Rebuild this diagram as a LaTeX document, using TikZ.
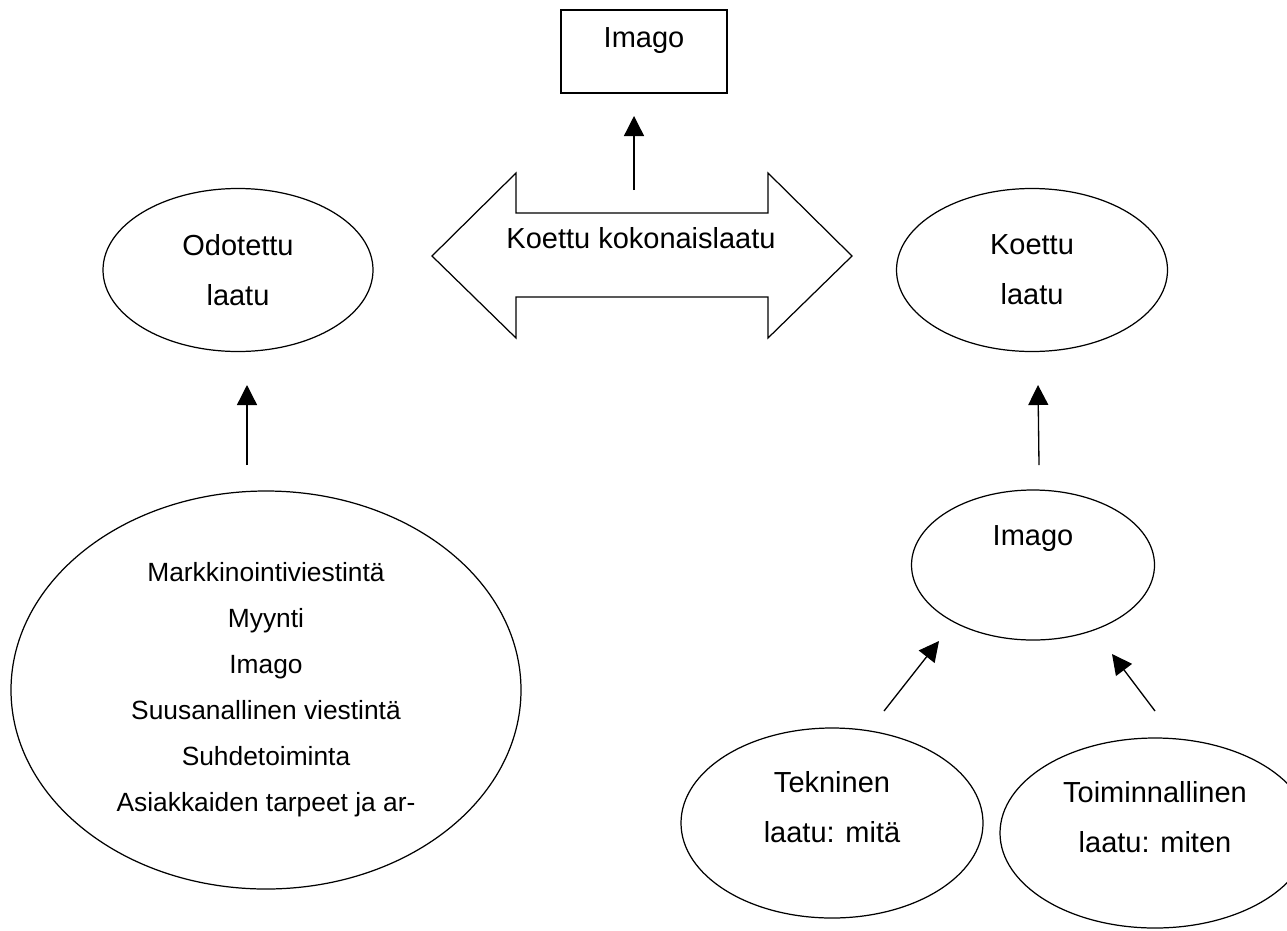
\documentclass[tikz,border=0pt]{standalone}
\usepackage{fontspec}
\setmainfont{Liberation Sans}
\usetikzlibrary{arrows.meta,shapes.geometric}

\begin{document}
\begin{tikzpicture}[
  x=0.02cm, y=-0.02cm,
  font=\fontsize{16.5}{28.5}\selectfont,
  line width=0.7pt,
  oval/.style={draw, ellipse, inner sep=0pt, align=center},
  box/.style={draw, rectangle, inner sep=0pt},
  arr/.style={-{Triangle[length=4mm, width=4mm]}, line width=0.75pt},
]
\def\px{0.02} % 1 px of the page
\useasboundingbox (0,0) rectangle (1287,930);
\clip (0,0) rectangle (1287,930);
% top box and the double arrow
\node[box, minimum width=166*\px cm, minimum height=83*\px cm,
  label={[yshift=0.21cm]center:Imago}] (imgT) at (644,51.5) {};
\draw (432,256) -- (516,173) -- (516,213) -- (768,213) -- (768,173)
  -- (852,256) -- (768,338) -- (768,297) -- (516,297) -- (516,338) -- cycle;
\node (total) at (641,238) {Koettu kokonaislaatu};
% expected and perceived quality
\node[oval, minimum width=270*\px cm, minimum height=163*\px cm] (odot) at (238,270) {Odotettu\\laatu};
\node[oval, minimum width=271*\px cm, minimum height=163*\px cm] (koet) at (1032,270) {Koettu\\laatu};
% sources of expectations
\node[oval, minimum width=510*\px cm, minimum height=398*\px cm,
  font=\fontsize{15}{26.2}\selectfont] (lahteet) at (266,690)
  {Markkinointiviestintä\\Myynti\\Imago\\Suusanallinen viestintä\\Suhdetoiminta\\Asiakkaiden tarpeet ja ar-};
% image and its two parts
\node[oval, minimum width=243*\px cm, minimum height=150*\px cm,
  label={[yshift=0.52cm]center:Imago}] (imgR) at (1033,565) {};
\node[oval, minimum width=302*\px cm, minimum height=190*\px cm,
  label={[yshift=0.32cm, align=center]center:Tekninen\\laatu: mitä}] (tekn) at (832,823) {};
\node[oval, minimum width=310*\px cm, minimum height=190*\px cm,
  label={[yshift=0.31cm, align=center]center:Toiminnallinen\\laatu: miten}] (toim) at (1155,833) {};
% arrow ends (gaps to the shapes)
\foreach \n/\x/\y in {totalUp/634/190, imgTlow/634/116,
                      lahteetUp/247/465, odotLow/247/385,
                      imgRup/1039/465, koetLow/1038/385,
                      teknUp/884/711, imgRleft/939/641,
                      toimUp/1155/711, imgRright/1112/654}{
  \coordinate (\n) at (\x,\y);
}
\foreach \s/\e in {totalUp/imgTlow, lahteetUp/odotLow, imgRup/koetLow,
                   teknUp/imgRleft, toimUp/imgRright}{
  \draw[arr] (\s) -- (\e);
}
\end{tikzpicture}
\end{document}
